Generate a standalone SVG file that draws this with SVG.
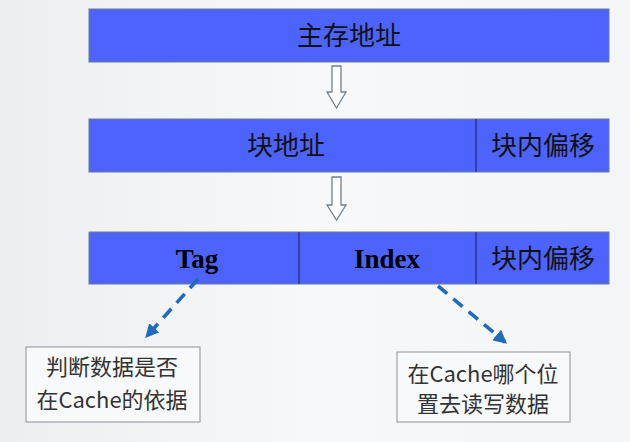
<svg xmlns="http://www.w3.org/2000/svg" width="630" height="442" viewBox="0 0 630 442">
<defs>
<style>
.bar{fill:#4d63fe;stroke:#6b7b95;stroke-width:1}
.div{stroke:#1a1f4a;stroke-width:1}
.cn{font-family:"Liberation Serif","Noto Sans CJK SC",serif;font-size:26px;fill:#111;text-anchor:middle}
.en{font-family:"Liberation Serif","Noto Sans CJK SC",serif;font-size:27px;font-weight:bold;fill:#000;text-anchor:middle}
.note{fill:#f8f9fa;stroke:#8a8f96;stroke-width:1}
.nt{font-family:"Noto Sans CJK SC","Noto Sans",sans-serif;font-size:22px;fill:#333;text-anchor:middle}
.blk{fill:#ffffff;stroke:#6f8090;stroke-width:1.3}
.dash{fill:none;stroke:#1f6bbd;stroke-width:3.6;stroke-dasharray:12 8}
</style>
<linearGradient id="bg" x1="0" y1="0" x2="1" y2="0">
<stop offset="0" stop-color="#eceef1"/>
<stop offset="0.5" stop-color="#f7f8f9"/>
<stop offset="1" stop-color="#f4f5f6"/>
</linearGradient>
<marker id="ah" viewBox="0 0 10 10" refX="8" refY="5" markerWidth="3.8" markerHeight="3.8" orient="auto">
<path d="M0,0 L10,5 L0,10 z" fill="#1f6bbd"/>
</marker>
</defs>
<rect width="630" height="442" fill="url(#bg)"/>
<g id="main-address">
<rect class="bar" x="89" y="9" width="520" height="53"/>
<text class="cn" x="349" y="45">主存地址</text>
</g>
<g id="block-address">
<rect class="bar" x="89" y="119" width="520" height="53"/>
<line class="div" x1="476" y1="119" x2="476" y2="172"/>
<text class="cn" x="286" y="155">块地址</text>
<text class="cn" x="543" y="155">块内偏移</text>
</g>
<g id="tag-index">
<rect class="bar" x="89" y="232" width="520" height="52"/>
<line class="div" x1="299" y1="232" x2="299" y2="284"/>
<line class="div" x1="476" y1="232" x2="476" y2="284"/>
<text class="en" x="197" y="268">Tag</text>
<text class="en" x="387" y="268">Index</text>
<text class="cn" x="543" y="268">块内偏移</text>
</g>
<g id="note-tag">
<rect class="note" x="26" y="347" width="174" height="75"/>
<text class="nt" x="112" y="375">判断数据是否</text>
<text class="nt" x="112" y="408">在Cache的依据</text>
</g>
<g id="note-index">
<rect class="note" x="397" y="352" width="173" height="70"/>
<text class="nt" x="483" y="382">在Cache哪个位</text>
<text class="nt" x="483" y="412">置去读写数据</text>
</g>
<g id="connectors">
<path class="blk" d="M332,66 H341 V92 H346 L336.5,108 L327,92 H332 Z"/>
<path class="blk" d="M332,177 H341 V205 H346 L336.5,220 L327,205 H332 Z"/>
<path class="dash" d="M198,279 L147,336" marker-end="url(#ah)"/>
<path class="dash" d="M438,286 L505,342" marker-end="url(#ah)"/>
</g>
</svg>
